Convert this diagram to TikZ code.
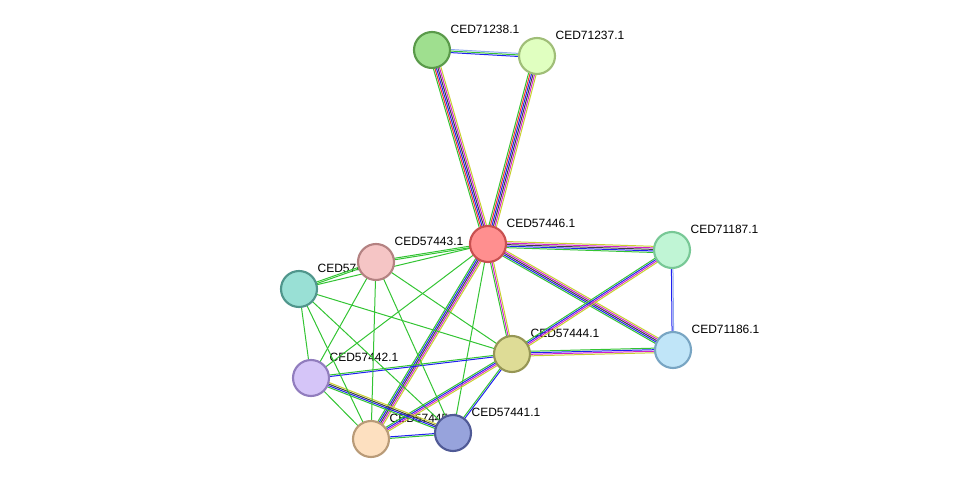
\documentclass[tikz,border=0pt]{standalone}
\usepackage{fontspec}
\setmainfont{Liberation Sans}
\usetikzlibrary{calc}
\definecolor{eg}{HTML}{33C433}
\definecolor{eb}{HTML}{2020F0}
\definecolor{er}{HTML}{F03030}
\definecolor{ek}{HTML}{404040}
\definecolor{em}{HTML}{D020D0}
\definecolor{ey}{HTML}{C8D030}
\definecolor{el}{HTML}{90A8F0}
\tikzset{
  prot/.style={circle,minimum size=27pt,inner sep=0pt,line width=1.6pt},
  lab/.style={font=\fontsize{9}{10}\selectfont,anchor=south west,inner sep=1pt},
}
\newcommand{\medge}[3]{% a, b, list of colors
  \foreach \c [count=\i] in {#3} {\xdef\nn{\i}}%
  \foreach \c [count=\i] in {#3} {
    \pgfmathsetmacro{\o}{(\i-(\nn+1)/2)*1.15}
    \draw[\c,line width=0.75pt] ($(#1)!\o pt!90:(#2)$) -- ($(#2)!\o pt!-90:(#1)$);
  }}
\begin{document}
\begin{tikzpicture}[x=0.75pt,y=-0.75pt]
\useasboundingbox (0,0) rectangle (976,485);
% labels first (nodes can cover them)
\node[lab] (lA) at (449,35) {CED71238.1};
\node[lab] (lB) at (554,41) {CED71237.1};
\node[lab] (lC) at (505,229) {CED57446.1};
\node[lab] (lD) at (393,247) {CED57443.1};
\node[lab] (lE) at (316,274) {CED57447.1};
\node[lab] (lF) at (689,235) {CED71187.1};
\node[lab] (lG) at (690,335) {CED71186.1};
\node[lab] (lH) at (529,339) {CED57444.1};
\node[lab] (lI) at (328,363) {CED57442.1};
\node[lab] (lJ) at (388,424) {CED57445.1};
\node[lab] (lK) at (470,418) {CED57441.1};
% node coordinates
\coordinate (A) at (432,50);
\coordinate (B) at (537,56);
\coordinate (C) at (488,244);
\coordinate (D) at (376,262);
\coordinate (E) at (299,289);
\coordinate (F) at (672,250);
\coordinate (G) at (673,350);
\coordinate (H) at (512,354);
\coordinate (I) at (311,378);
\coordinate (J) at (371,439);
\coordinate (K) at (453,433);
% edges
\medge{A}{B}{eb,eg,el}
\medge{A}{C}{eg,er,eb,ek,em,ey}
\medge{B}{C}{eg,er,eb,ek,em,ey}
\medge{C}{F}{eg,eb,ek,em,ey}
\medge{C}{G}{eg,eb,ek,em,ey}
\medge{C}{H}{eg,em,ey}
\medge{C}{J}{eg,eb,ek,em,ey}
\medge{C}{D}{eg,eg}
\medge{C}{E}{eg}
\medge{C}{I}{eg}
\medge{C}{K}{eg}
\medge{F}{G}{eb,el}
\medge{F}{H}{eg,eb,em,ey}
\medge{G}{H}{eg,eb,em,ey}
\medge{H}{I}{eg,eb}
\medge{H}{J}{eg,eb,em,ey}
\medge{H}{K}{eg,eb}
\medge{H}{D}{eg}
\medge{H}{E}{eg}
\medge{I}{K}{eg,eb,ek,ey}
\medge{J}{K}{eg,eb}
\medge{D}{E}{eg,eg}
\medge{D}{I}{eg}
\medge{D}{J}{eg}
\medge{D}{K}{eg}
\medge{E}{I}{eg}
\medge{E}{J}{eg}
\medge{E}{K}{eg}
\medge{I}{J}{eg}
% nodes
\node[prot,fill={rgb,255:red,159;green,223;blue,143},draw={rgb,255:red,90;green,154;blue,74}] (nA) at (A) {};
\node[prot,fill={rgb,255:red,224;green,255;blue,192},draw={rgb,255:red,160;green,190;blue,120}] (nB) at (B) {};
\node[prot,fill={rgb,255:red,255;green,143;blue,143},draw={rgb,255:red,200;green,80;blue,80}] (nC) at (C) {};
\node[prot,fill={rgb,255:red,245;green,197;blue,197},draw={rgb,255:red,180;green,130;blue,130}] (nD) at (D) {};
\node[prot,fill={rgb,255:red,153;green,224;blue,213},draw={rgb,255:red,80;green,150;blue,140}] (nE) at (E) {};
\node[prot,fill={rgb,255:red,192;green,245;blue,213},draw={rgb,255:red,120;green,200;blue,150}] (nF) at (F) {};
\node[prot,fill={rgb,255:red,192;green,229;blue,248},draw={rgb,255:red,120;green,165;blue,195}] (nG) at (G) {};
\node[prot,fill={rgb,255:red,222;green,220;blue,150},draw={rgb,255:red,150;green,150;blue,85}] (nH) at (H) {};
\node[prot,fill={rgb,255:red,213;green,197;blue,248},draw={rgb,255:red,145;green,125;blue,190}] (nI) at (I) {};
\node[prot,fill={rgb,255:red,253;green,224;blue,192},draw={rgb,255:red,185;green,155;blue,120}] (nJ) at (J) {};
\node[prot,fill={rgb,255:red,151;green,163;blue,220},draw={rgb,255:red,80;green,90;blue,150}] (nK) at (K) {};
\end{tikzpicture}
\end{document}
